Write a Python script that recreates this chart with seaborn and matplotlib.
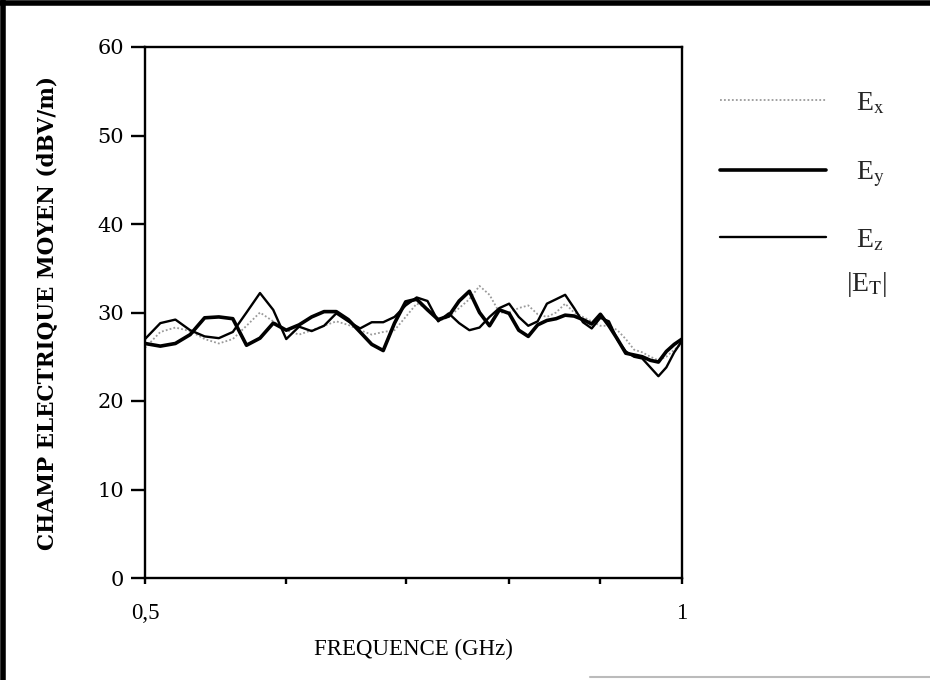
import numpy as np
import pandas as pd
import matplotlib
matplotlib.use("Agg")
import matplotlib.pyplot as plt
from matplotlib.lines import Line2D
from matplotlib.ticker import NullFormatter, NullLocator, FixedLocator, FixedFormatter
import seaborn as sns

# ---------------- data ----------------
freq = [0.50, 0.51, 0.52, 0.53, 0.54, 0.55, 0.56, 0.57, 0.58, 0.59,
        0.60, 0.61, 0.62, 0.63, 0.64, 0.65, 0.66, 0.67, 0.68, 0.69,
        0.70, 0.71, 0.72, 0.73, 0.74, 0.75, 0.76, 0.77, 0.78, 0.79,
        0.80, 0.81, 0.82, 0.83, 0.84, 0.85, 0.86, 0.87, 0.88, 0.89,
        0.90, 0.91, 0.92, 0.93, 0.94, 0.95, 0.96, 0.97, 0.98, 0.99, 1.00]

ex = [26.0, 27.8, 28.3, 27.9, 27.0, 26.5, 27.0, 28.5, 30.0, 29.0,
      28.0, 27.5, 28.0, 28.5, 29.0, 28.6, 28.0, 27.5, 27.8, 28.0,
      29.5, 31.0, 30.5, 29.0, 29.5, 30.5, 31.5, 33.0, 32.0, 30.0,
      30.0, 30.5, 30.8, 29.8, 29.5, 30.0, 31.0, 30.0, 29.5, 29.0,
      28.5, 28.5, 28.0, 27.0, 25.8, 25.5, 25.0, 24.6, 25.0, 25.8, 26.5]

ey = [26.5, 26.2, 26.5, 27.5, 29.4, 29.5, 29.3, 26.3, 27.1, 28.8,
      28.0, 28.6, 29.5, 30.1, 30.1, 29.2, 27.8, 26.4, 25.7, 28.8,
      31.2, 31.5, 30.3, 29.2, 29.6, 31.3, 32.4, 30.0, 28.5, 30.3,
      29.9, 28.0, 27.3, 28.6, 29.1, 29.3, 29.7, 29.6, 29.2, 28.7,
      29.8, 28.5, 27.0, 25.4, 25.2, 25.0, 24.6, 24.4, 25.6, 26.4, 27.0]

ez = [27.0, 28.8, 29.2, 28.0, 27.3, 27.1, 27.8, 30.0, 32.2, 30.3,
      27.0, 28.4, 27.9, 28.5, 29.9, 29.0, 28.2, 28.9, 28.9, 29.5,
      30.8, 31.7, 31.3, 29.0, 29.9, 28.8, 28.0, 28.3, 29.5, 30.5,
      31.0, 29.5, 28.5, 29.0, 31.0, 31.5, 32.0, 30.5, 28.9, 28.2,
      29.4, 29.0, 26.9, 25.6, 25.0, 24.8, 23.8, 22.8, 23.8, 25.5, 26.8]

yticks = [0, 10, 20, 30, 40, 50, 60]
xticks = [0.5, 0.6, 0.7, 0.8, 0.9, 1.0]
xticklabels = ["0,5", "", "", "", "", "1"]

# ---------------- style ----------------
sns.set_style("white")
plt.rcParams["font.family"] = ["Liberation Serif", "DejaVu Serif"]
plt.rcParams["mathtext.fontset"] = "stix"

df = pd.DataFrame({"freq": freq, "Ex": ex, "Ey": ey, "Ez": ez})

fig = plt.figure(figsize=(9.3, 6.8), dpi=100)
ax = fig.add_axes([145 / 930, 1 - 578 / 680, (682 - 145) / 930, (578 - 47) / 680])

sns.lineplot(data=df, x="freq", y="Ex", ax=ax, color="#9a9a9a", lw=1.3,
             linestyle=(0, (1, 1.2)), legend=False)
sns.lineplot(data=df, x="freq", y="Ez", ax=ax, color="black", lw=1.7, legend=False)
sns.lineplot(data=df, x="freq", y="Ey", ax=ax, color="black", lw=2.6, legend=False)

ax.set_xscale("log")
ax.set_xlim(0.5, 1.0)
ax.set_ylim(0, 60)
ax.xaxis.set_major_locator(FixedLocator(xticks))
ax.xaxis.set_major_formatter(FixedFormatter(xticklabels))
ax.xaxis.set_minor_locator(NullLocator())
ax.xaxis.set_minor_formatter(NullFormatter())
ax.set_yticks(yticks)

for s in ax.spines.values():
    s.set_visible(True)
    s.set_color("black")
    s.set_linewidth(1.7)

ax.tick_params(axis="y", direction="out", length=10, width=1.7, pad=5,
               left=True, labelsize=15, colors="black")
ax.tick_params(axis="x", direction="out", length=4, width=1.7, pad=14,
               bottom=True, labelsize=16.5, colors="black")
for lab in ax.get_yticklabels():
    lab.set_family("DejaVu Serif")

ax.set_xlabel("FREQUENCE (GHz)", fontsize=16.5, labelpad=11, color="black")
ax.set_ylabel("CHAMP ELECTRIQUE MOYEN (dBV/m)", fontsize=15.5, fontweight="bold",
              family="DejaVu Serif", labelpad=28, color="black")

# ---------------- legend (manual, outside the axes) ----------------
def fx(px):
    return px / 930

def fy(py):
    return 1 - py / 680

leg = [
    ("E$_{\\mathrm{x}}$", 100, dict(color="#9a9a9a", lw=1.3, linestyle=(0, (1, 1.2)))),
    ("E$_{\\mathrm{y}}$", 170, dict(color="black", lw=2.6, linestyle="-")),
    ("E$_{\\mathrm{z}}$", 237, dict(color="black", lw=1.7, linestyle="-")),
]
for label, py, kw in leg:
    fig.add_artist(Line2D([fx(720), fx(826)], [fy(py), fy(py)],
                          transform=fig.transFigure, **kw))
    fig.text(fx(856), fy(py + 4), label, fontsize=20, va="center", ha="left")
fig.text(fx(846), fy(284), "|E$_{\\mathrm{T}}$|", fontsize=20, va="center", ha="left")

# ---------------- scanned page frame ----------------
fig.add_artist(Line2D([fx(3), fx(3)], [0, 1], transform=fig.transFigure,
                      color="black", lw=4))
fig.add_artist(Line2D([0, 1], [fy(3), fy(3)], transform=fig.transFigure,
                      color="black", lw=4))
fig.add_artist(Line2D([fx(590), 1], [fy(677), fy(677)], transform=fig.transFigure,
                      color="#bbbbbb", lw=1.5))

fig.savefig("out.png", dpi=100, facecolor="white")
